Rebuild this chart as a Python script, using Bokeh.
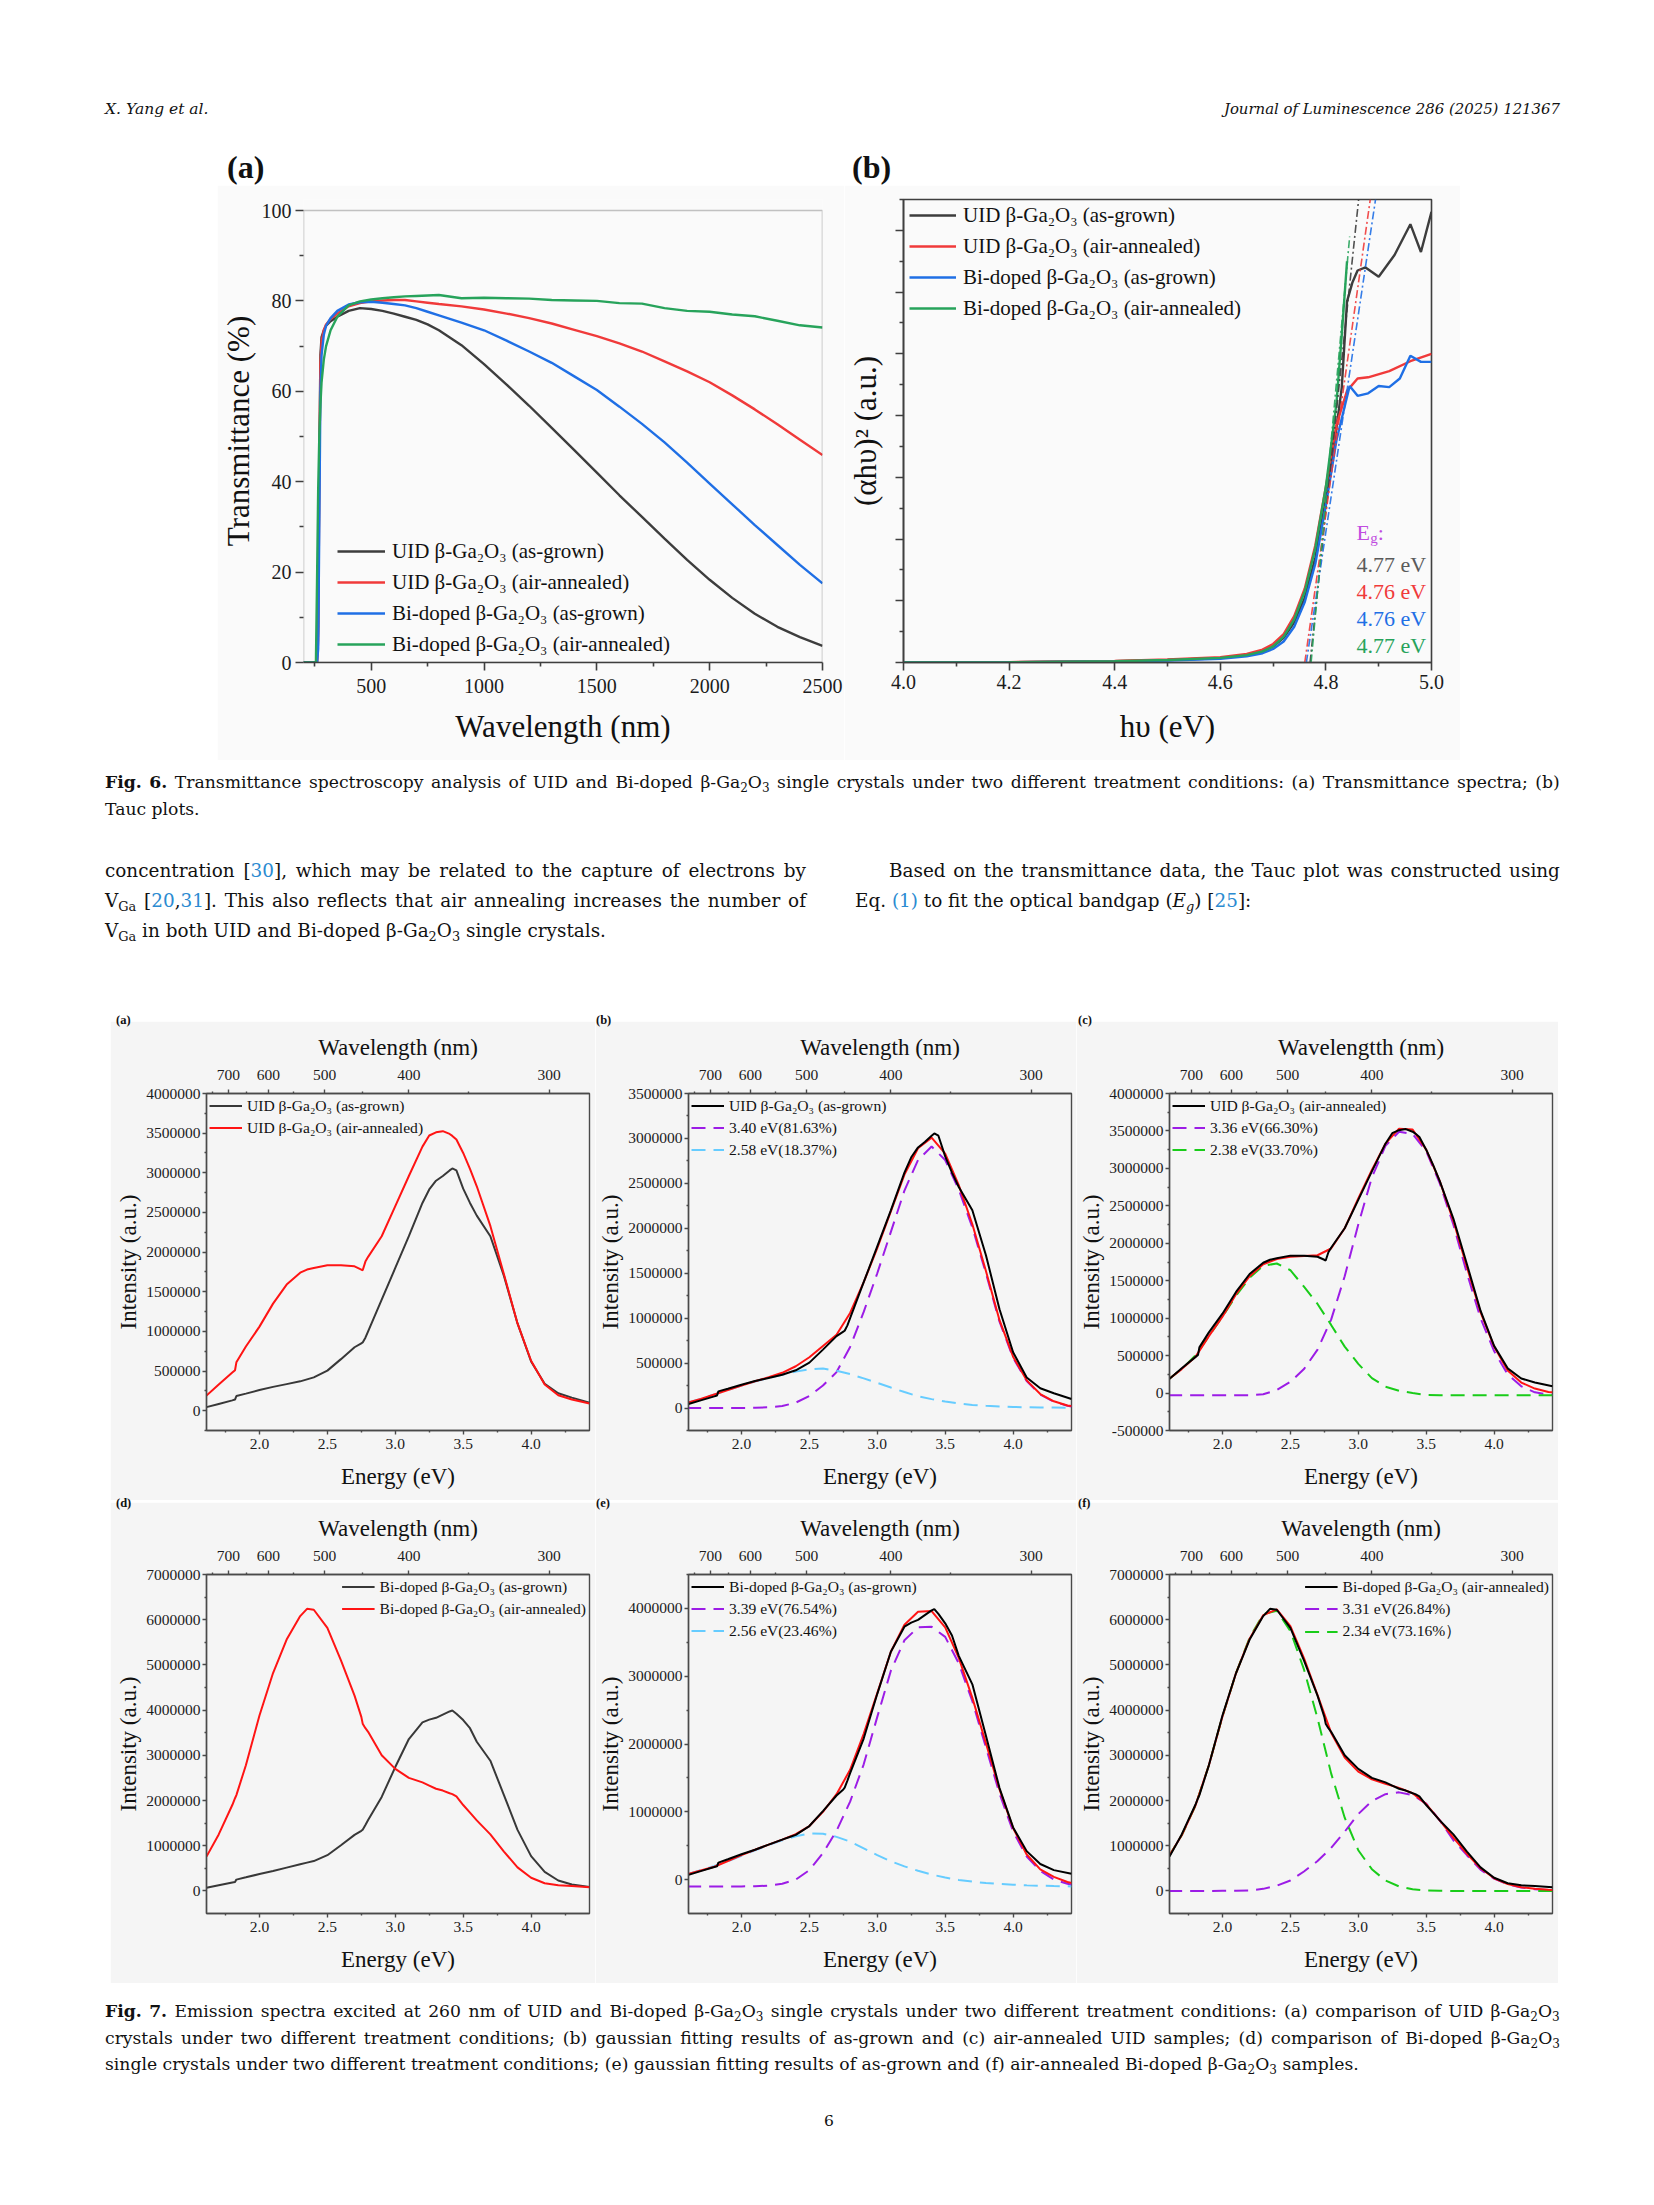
import re
from bokeh.plotting import figure
from bokeh.models import (Range1d, FixedTicker, PrintfTickFormatter, CustomJSTickFormatter,
                          LinearAxis, Legend, LegendItem, Label, Div, Spacer, BoxAnnotation)
from bokeh.layouts import column, row
from bokeh.embed import file_html
from bokeh.resources import INLINE

SERIF = "Liberation Serif"
BODY = "DejaVu Serif"
PAGE_W = 1646

# ---------------- Fig. 6(a): transmittance spectra ----------------
wavelength_nm = [200, 255, 260, 265, 270, 275, 280, 290, 300, 320, 350, 400, 450, 500, 550, 600, 650,
                 700, 750, 800, 900, 1000, 1100, 1200, 1300, 1400, 1500, 1600, 1700, 1800, 1900, 2000,
                 2100, 2200, 2300, 2400, 2500]
trans_uid_grown = [0, 0, 0, 8, 45, 68, 72, 73.5, 74.5, 75.5, 76.5, 77.8, 78.4, 78.2, 77.8, 77.2, 76.5,
                   75.8, 74.8, 73.5, 70.2, 66.0, 61.5, 56.8, 51.9, 47.0, 42.0, 37.0, 32.2, 27.4, 22.7, 18.3,
                   14.3, 10.8, 7.9, 5.6, 3.7]
trans_uid_annealed = [0, 0, 0, 5, 40, 66, 71, 73.5, 74.8, 76, 77.2, 78.8, 79.5, 79.9, 80.1, 80.2, 80.2,
                      79.9, 79.6, 79.3, 78.8, 78.1, 77.2, 76.2, 75.0, 73.6, 72.2, 70.6, 68.8, 66.6, 64.4, 62.0,
                      59.1, 56.0, 52.7, 49.3, 45.9]
trans_bi_grown = [0, 0, 0, 3, 30, 60, 68, 72.5, 74.5, 76.2, 77.8, 79.2, 79.7, 79.8, 79.6, 79.3, 79.0,
                  78.4, 77.6, 76.8, 75.2, 73.5, 71.2, 68.8, 66.3, 63.3, 60.3, 56.6, 52.8, 48.7, 44.2, 39.6,
                  35.0, 30.4, 26.0, 21.6, 17.5]
trans_bi_annealed = [0, 0, 18, 38, 50, 57, 62, 67, 70, 73.5, 76.5, 79, 79.9, 80.3, 80.6, 80.8, 81.0,
                     81.1, 81.2, 81.3, 80.6, 80.7, 80.6, 80.5, 80.2, 80.1, 80.0, 79.5, 79.4, 78.4, 77.8, 77.6,
                     77.0, 76.6, 75.6, 74.6, 74.1]
sample_labels = ["UID β-Ga₂O₃ (as-grown)", "UID β-Ga₂O₃ (air-annealed)",
                 "Bi-doped β-Ga₂O₃ (as-grown)", "Bi-doped β-Ga₂O₃ (air-annealed)"]
trans_xticks = [500, 1000, 1500, 2000, 2500]
trans_xminor = [250, 750, 1250, 1750, 2250]
trans_yticks = [0, 20, 40, 60, 80, 100]
trans_yminor = [10, 30, 50, 70, 90]
trans_x_lim = [200, 2500]
trans_y_lim = [0, 100]

# ---------------- Fig. 6(b): Tauc plots ----------------
tauc_e_uid_grown = [4.0, 4.2, 4.4, 4.5, 4.6, 4.65, 4.68, 4.70, 4.72, 4.74, 4.76, 4.78, 4.80, 4.82, 4.83,
                    4.84, 4.85, 4.86, 4.875, 4.90, 4.93, 4.96, 4.98, 5.0]
tauc_uid_grown = [0.0, 0.005, 0.02, 0.04, 0.07, 0.12, 0.18, 0.26, 0.40, 0.65, 1.05, 1.70, 2.65, 3.80, 4.45,
                  5.85, 6.15, 6.35, 6.40, 6.25, 6.60, 7.10, 6.65, 7.30]
tauc_e_uid_annealed = [4.0, 4.2, 4.4, 4.5, 4.6, 4.65, 4.68, 4.70, 4.72, 4.74, 4.76, 4.78, 4.80, 4.82, 4.84,
                       4.86, 4.88, 4.92, 4.96, 5.0]
tauc_uid_annealed = [0.0, 0.006, 0.025, 0.05, 0.085, 0.14, 0.21, 0.30, 0.46, 0.75, 1.20, 1.90, 2.85, 3.85,
                     4.40, 4.60, 4.62, 4.72, 4.88, 5.00]
tauc_e_bi_grown = [4.0, 4.2, 4.4, 4.5, 4.6, 4.65, 4.68, 4.70, 4.72, 4.74, 4.76, 4.78, 4.80, 4.82, 4.845,
                   4.86, 4.88, 4.90, 4.92, 4.94, 4.96, 4.98, 5.0]
tauc_bi_grown = [0.0, 0.004, 0.015, 0.03, 0.06, 0.10, 0.15, 0.22, 0.34, 0.58, 0.98, 1.60, 2.55, 3.60, 4.48,
                 4.32, 4.36, 4.48, 4.46, 4.60, 4.97, 4.87, 4.87]
tauc_e_bi_annealed = [4.0, 4.2, 4.4, 4.5, 4.6, 4.65, 4.68, 4.70, 4.72, 4.74, 4.76, 4.78, 4.80, 4.82, 4.83, 4.84]
tauc_bi_annealed = [0.0, 0.005, 0.02, 0.04, 0.075, 0.12, 0.18, 0.26, 0.42, 0.70, 1.15, 1.85, 2.85, 4.20,
                    5.30, 6.50]
tangent_eg = [4.770, 4.760, 4.763, 4.772]
tangent_base = [0, 0, 0, 0]
tangent_top_e = [4.862, 4.884, 4.894, 4.845]
tangent_top_y = [7.5, 7.5, 7.5, 6.9]
eg_labels = ["4.77 eV", "4.76 eV", "4.76 eV", "4.77 eV"]
tauc_xticks = [4.0, 4.2, 4.4, 4.6, 4.8, 5.0]
tauc_xminor = [4.1, 4.3, 4.5, 4.7, 4.9]
tauc_yticks = [0, 1, 2, 3, 4, 5, 6, 7]
tauc_yminor = [0.5, 1.5, 2.5, 3.5, 4.5, 5.5, 6.5, 7.5]

# ---------------- Fig. 7: PL spectra ----------------
pl_energy = [1.61, 1.70, 1.80, 1.82, 1.83, 1.90, 2.00, 2.10, 2.20, 2.30, 2.35, 2.40, 2.50, 2.60, 2.70,
             2.75, 2.76, 2.78, 2.80, 2.90, 3.00, 3.10, 3.20, 3.25, 3.30, 3.35, 3.40, 3.42, 3.45, 3.50,
             3.55, 3.60, 3.70, 3.80, 3.90, 4.00, 4.10, 4.20, 4.30, 4.43]
pl_uid_grown = [45000, 85000, 130000, 140000, 185000, 215000, 260000, 300000, 335000, 370000, 395000,
                420000, 505000, 650000, 800000, 850000, 860000, 920000, 1000000, 1400000, 1800000,
                2200000, 2620000, 2790000, 2900000, 2960000, 3030000, 3055000, 3030000, 2800000,
                2620000, 2460000, 2200000, 1700000, 1100000, 620000, 340000, 220000, 165000, 100000]
pl_uid_annealed = [190000, 330000, 480000, 510000, 610000, 810000, 1060000, 1350000, 1590000, 1740000,
                   1780000, 1800000, 1835000, 1835000, 1820000, 1780000, 1770000, 1880000, 1940000,
                   2200000, 2580000, 2960000, 3330000, 3470000, 3510000, 3525000, 3490000, 3465000,
                   3420000, 3250000, 3050000, 2830000, 2330000, 1720000, 1100000, 630000, 330000,
                   195000, 140000, 90000]
pl_bi_grown = [70000, 125000, 185000, 195000, 250000, 300000, 373000, 440000, 515000, 590000, 625000,
               660000, 790000, 1010000, 1240000, 1330000, 1355000, 1460000, 1570000, 2080000, 2740000,
               3360000, 3730000, 3790000, 3830000, 3900000, 3970000, 3990000, 3920000, 3780000,
               3600000, 3300000, 2880000, 2120000, 1350000, 770000, 420000, 230000, 140000, 85000]
pl_bi_annealed = [760000, 1250000, 1900000, 2050000, 2120000, 2780000, 3880000, 4820000, 5560000,
                  6080000, 6240000, 6220000, 5820000, 5100000, 4320000, 3850000, 3700000, 3600000,
                  3520000, 3000000, 2700000, 2500000, 2400000, 2330000, 2260000, 2220000, 2160000,
                  2140000, 2090000, 1900000, 1730000, 1560000, 1250000, 870000, 520000, 290000,
                  170000, 125000, 110000, 80000]

fit_energy = [1.6, 1.7, 1.8, 1.9, 2.0, 2.1, 2.2, 2.3, 2.4, 2.5, 2.6, 2.7, 2.8, 2.9, 3.0, 3.1, 3.2, 3.3,
              3.4, 3.5, 3.6, 3.7, 3.8, 3.9, 4.0, 4.1, 4.2, 4.3, 4.4, 4.43]
b_peak_340 = [0, 0, 0, 0, 1000, 3000, 8000, 22000, 60000, 135000, 250000, 400000, 680000, 1070000,
              1500000, 1960000, 2420000, 2760000, 2910000, 2760000, 2430000, 2010000, 1500000, 960000,
              560000, 300000, 150000, 70000, 25000, 18000]
b_peak_258 = [60000, 100000, 150000, 200000, 250000, 295000, 335000, 370000, 405000, 430000, 440000,
              415000, 378000, 330000, 280000, 228000, 178000, 131000, 99000, 72000, 50000, 35000, 25000,
              18000, 12000, 8000, 6000, 5000, 4000, 4000]
b_fit = [60000, 100000, 150000, 200000, 251000, 298000, 343000, 392000, 465000, 565000, 690000, 815000,
         1058000, 1400000, 1780000, 2188000, 2598000, 2891000, 3009000, 2832000, 2480000, 2045000,
         1525000, 978000, 572000, 308000, 156000, 75000, 29000, 22000]
c_peak_336 = [-30000, -30000, -30000, -30000, -30000, -30000, -28000, -15000, 40000, 150000, 320000,
              580000, 980000, 1560000, 2250000, 2880000, 3300000, 3490000, 3460000, 3230000, 2800000,
              2250000, 1600000, 1000000, 560000, 250000, 90000, 10000, -20000, -25000]
c_peak_238 = [180000, 320000, 500000, 760000, 1020000, 1300000, 1540000, 1700000, 1730000, 1640000,
              1420000, 1190000, 910000, 620000, 390000, 200000, 85000, 30000, 0, -25000, -30000, -30000,
              -30000, -30000, -30000, -30000, -30000, -30000, -30000, -30000]
c_fit = [180000, 320000, 480000, 760000, 1020000, 1320000, 1560000, 1720000, 1790000, 1820000, 1830000,
         1840000, 1930000, 2200000, 2600000, 2980000, 3330000, 3530000, 3520000, 3250000, 2830000,
         2300000, 1680000, 1080000, 620000, 300000, 140000, 60000, 15000, 10000]
e_peak_339 = [-100000, -100000, -100000, -100000, -100000, -98000, -88000, -60000, 0, 140000, 390000,
              720000, 1150000, 1700000, 2400000, 3080000, 3530000, 3720000, 3730000, 3580000, 3190000,
              2630000, 1950000, 1270000, 710000, 340000, 130000, 0, -60000, -75000]
e_peak_256 = [80000, 140000, 200000, 270000, 350000, 430000, 510000, 580000, 640000, 680000, 675000,
              630000, 560000, 460000, 360000, 270000, 195000, 130000, 75000, 30000, -5000, -30000, -50000,
              -65000, -75000, -85000, -90000, -95000, -98000, -100000]
e_fit = [80000, 135000, 190000, 275000, 360000, 440000, 515000, 590000, 670000, 790000, 1000000, 1260000,
         1620000, 2150000, 2750000, 3360000, 3760000, 3950000, 3960000, 3720000, 3270000, 2680000,
         2010000, 1330000, 760000, 370000, 150000, 40000, -35000, -50000]
f_peak_331 = [0, 0, 0, 0, 1000, 3000, 10000, 45000, 115000, 230000, 430000, 660000, 950000, 1310000,
              1700000, 1990000, 2140000, 2180000, 2120000, 1930000, 1560000, 1120000, 790000, 470000,
              270000, 150000, 75000, 37000, 17000, 15000]
f_peak_234 = [740000, 1230000, 1880000, 2780000, 3860000, 4820000, 5600000, 6120000, 6200000, 5750000,
              4900000, 3820000, 2600000, 1620000, 900000, 480000, 230000, 100000, 35000, 10000, 2000, 0,
              0, 0, 0, 0, 0, 0, 0, 0]
f_fit = [740000, 1230000, 1880000, 2780000, 3860000, 4820000, 5580000, 6100000, 6230000, 5860000,
         5150000, 4330000, 3500000, 2950000, 2640000, 2470000, 2370000, 2280000, 2160000, 1920000,
         1560000, 1180000, 820000, 500000, 280000, 150000, 80000, 45000, 25000, 20000]

energy_ticks = [2.0, 2.5, 3.0, 3.5, 4.0]
energy_minor = [1.75, 2.25, 2.75, 3.25, 3.75, 4.25]
wl_ticks = [700, 600, 500, 400, 300]
wl_minor = [750, 650, 550, 450, 350]
E_NM = 1239.84

yt_a = [0, 500000, 1000000, 1500000, 2000000, 2500000, 3000000, 3500000, 4000000]
ym_a = [-250000, 250000, 750000, 1250000, 1750000, 2250000, 2750000, 3250000, 3750000]
yt_b = [0, 500000, 1000000, 1500000, 2000000, 2500000, 3000000, 3500000]
ym_b = [-250000, 250000, 750000, 1250000, 1750000, 2250000, 2750000, 3250000]
yt_c = [-500000, 0, 500000, 1000000, 1500000, 2000000, 2500000, 3000000, 3500000, 4000000]
ym_c = [-250000, 250000, 750000, 1250000, 1750000, 2250000, 2750000, 3250000, 3750000]
yt_d = [0, 1000000, 2000000, 3000000, 4000000, 5000000, 6000000, 7000000]
ym_d = [500000, 1500000, 2500000, 3500000, 4500000, 5500000, 6500000]
yt_e = [0, 1000000, 2000000, 3000000, 4000000]
ym_e = [500000, 1500000, 2500000, 3500000, 4500000]

# ---------------- colours ----------------
FIG6_BG = "#fafafa"
FIG7_BG = "#f5f5f5"
AX6 = "#3f3f3f"
AX7 = "#4a4a4a"
C6 = ["#3d3d3d", "#f03a3a", "#1f6fe5", "#27a35b"]
EG_COL = "#c04ce0"
C7_DARK = "#383838"
C7_BLACK = "#000000"
C7_RED = "#ff1414"
C7_PURPLE = "#9c1ce6"
C7_CYAN = "#66ccff"
C7_GREEN = "#19cc19"


def style_axis(ax, tick_px, label_px, tick_out, minor_out, color, lab_so, axis_so, lw):
    ax.axis_line_color = color
    ax.axis_line_width = lw
    ax.major_tick_line_color = color
    ax.minor_tick_line_color = color
    ax.major_tick_line_width = lw
    ax.minor_tick_line_width = lw
    ax.major_tick_in = 0
    ax.major_tick_out = tick_out
    ax.minor_tick_in = 0
    ax.minor_tick_out = minor_out
    ax.major_label_text_font = SERIF
    ax.major_label_text_font_size = tick_px
    ax.major_label_text_color = "#1c1c1c"
    ax.major_label_standoff = lab_so
    ax.axis_label_text_font = SERIF
    ax.axis_label_text_font_size = label_px
    ax.axis_label_text_font_style = "normal"
    ax.axis_label_text_color = "#111111"
    ax.axis_label_standoff = axis_so


def add_legend(p, items, loc, font_px, glyph_w, row_h, spacing, margin, standoff):
    lg = Legend(items=[LegendItem(label=l, renderers=[r]) for l, r in items], location=loc,
                label_text_font=SERIF, label_text_font_size=font_px, label_text_color="#111111",
                glyph_width=glyph_w, glyph_height=row_h, label_height=row_h, spacing=spacing,
                padding=0, margin=margin, label_standoff=standoff,
                background_fill_alpha=0, border_line_alpha=0)
    p.add_layout(lg)


# ================= Fig. 6(a) =================
# frame spans 463 px; the 0-100 % box occupies its lower 452 px (panel (b) sits 11 px higher)
p6a = figure(frame_width=519, frame_height=463, min_border_left=86, min_border_right=22,
             min_border_top=14, min_border_bottom=98, x_range=Range1d(*trans_x_lim),
             y_range=Range1d(0, 100 * 463 / 452), output_backend="svg", toolbar_location=None,
             title_location=None)
p6a.border_fill_color = FIG6_BG
p6a.background_fill_color = FIG6_BG
p6a.grid.visible = False
p6a.outline_line_alpha = 0
r6a = []
for ys, col in zip([trans_uid_grown, trans_uid_annealed, trans_bi_grown, trans_bi_annealed], C6):
    r6a.append(p6a.line(wavelength_nm, ys, line_color=col, line_width=2.4))
p6a.add_layout(BoxAnnotation(left=trans_x_lim[0], right=trans_x_lim[1], bottom=trans_y_lim[0],
                             top=trans_y_lim[1], fill_alpha=0, line_color=AX6, line_width=1.6))
xa = p6a.below[0]
ya = p6a.left[0]
xa.ticker = FixedTicker(ticks=trans_xticks, minor_ticks=trans_xminor)
ya.ticker = FixedTicker(ticks=trans_yticks, minor_ticks=trans_yminor)
xa.formatter = PrintfTickFormatter(format="%d")
ya.formatter = PrintfTickFormatter(format="%d")
xa.axis_label = "Wavelength (nm)"
ya.axis_label = "Transmittance (%)"
style_axis(xa, "20px", "31px", 8, 4, AX6, 8, 13, 1.6)
style_axis(ya, "20px", "31px", 8, 4, AX6, 4, 3, 1.6)
ya.axis_line_alpha = 0
add_legend(p6a, list(zip(sample_labels, r6a)), (34, 4), "21px", 48, 28, 3, 0, 7)

# ================= Fig. 6(b) =================
p6b = figure(frame_width=528, frame_height=463, min_border_left=59, min_border_right=29,
             min_border_top=14, min_border_bottom=98, x_range=Range1d(4.0, 5.0),
             y_range=Range1d(0, 7.5), output_backend="svg", toolbar_location=None,
             title_location=None)
p6b.border_fill_color = FIG6_BG
p6b.background_fill_color = FIG6_BG
p6b.grid.visible = False
p6b.outline_line_color = AX6
p6b.outline_line_width = 1.6
r6b = []
for xs, ys, col in zip([tauc_e_uid_grown, tauc_e_uid_annealed, tauc_e_bi_grown, tauc_e_bi_annealed],
                       [tauc_uid_grown, tauc_uid_annealed, tauc_bi_grown, tauc_bi_annealed], C6):
    r6b.append(p6b.line(xs, ys, line_color=col, line_width=2.4))
for i, col in enumerate(C6):
    p6b.line([tangent_eg[i], tangent_top_e[i]], [tangent_base[i], tangent_top_y[i]],
             line_color=col, line_width=1.6, line_dash="8 3 2 3", line_alpha=0.9)
xb = p6b.below[0]
yb = p6b.left[0]
xb.ticker = FixedTicker(ticks=tauc_xticks, minor_ticks=tauc_xminor)
yb.ticker = FixedTicker(ticks=tauc_yticks, minor_ticks=tauc_yminor)
xb.formatter = PrintfTickFormatter(format="%.1f")
yb.formatter = CustomJSTickFormatter(code="return '';")
xb.axis_label = "hυ (eV)"
yb.axis_label = "(αhυ)² (a.u.)"
style_axis(xb, "20px", "31px", 8, 4, AX6, 4, 17, 1.6)
style_axis(yb, "20px", "31px", 8, 4, AX6, 0, 13, 1.6)
yb.major_label_text_font_size = "0px"
add_legend(p6b, list(zip(sample_labels, r6b)), (6, 340), "21px", 47, 28, 3, 0, 7)
EG_X = 4.858
p6b.add_layout(Label(x=EG_X, y=2.106, text="E", text_font=SERIF, text_font_size="22px",
                     text_color=EG_COL, text_baseline="middle", text_align="left"))
p6b.add_layout(Label(x=4.884, y=2.009, text="g", text_font=SERIF, text_font_size="15px",
                     text_color=EG_COL, text_baseline="middle", text_align="left"))
p6b.add_layout(Label(x=4.898, y=2.106, text=":", text_font=SERIF, text_font_size="22px",
                     text_color=EG_COL, text_baseline="middle", text_align="left"))
for txt, yv, col in zip(eg_labels, [1.587, 1.150, 0.713, 0.275],
                        ["#5a5a5a", "#f03a3a", "#1f6fe5", "#27a35b"]):
    p6b.add_layout(Label(x=EG_X, y=yv, text=txt, text_font=SERIF, text_font_size="22px",
                         text_color=col, text_baseline="middle", text_align="left"))


# ================= Fig. 7 panels =================
TOP7 = 72
BOT7 = 70


def pl_panel(lb, fw, rb, fh, y_lo, y_hi, yticks, yminor, top_title):
    p = figure(frame_width=fw, frame_height=fh, min_border_left=lb, min_border_right=rb,
               min_border_top=TOP7, min_border_bottom=BOT7, x_range=Range1d(1.61, 4.43),
               y_range=Range1d(y_lo, y_hi), output_backend="svg", toolbar_location=None,
               title_location=None)
    p.border_fill_color = FIG7_BG
    p.background_fill_color = FIG7_BG
    p.grid.visible = False
    p.outline_line_color = AX7
    p.outline_line_width = 1.4
    top_ax = LinearAxis(ticker=FixedTicker(ticks=[E_NM / w for w in wl_ticks],
                                           minor_ticks=[E_NM / w for w in wl_minor]),
                        formatter=CustomJSTickFormatter(code="return Math.round(1239.84 / tick).toString();"),
                        axis_label=top_title)
    p.add_layout(top_ax, "above")
    bx = p.below[0]
    ly = p.left[0]
    bx.ticker = FixedTicker(ticks=energy_ticks, minor_ticks=energy_minor)
    bx.formatter = PrintfTickFormatter(format="%.1f")
    bx.axis_label = "Energy (eV)"
    ly.ticker = FixedTicker(ticks=yticks, minor_ticks=yminor)
    ly.formatter = PrintfTickFormatter(format="%d")
    ly.axis_label = "Intensity (a.u.)"
    style_axis(bx, "15.5px", "23px", 4, 2, AX7, 4, 12, 1.4)
    style_axis(top_ax, "15.5px", "23px", 4, 2, AX7, 10, 7, 1.4)
    style_axis(ly, "15.5px", "23px", 4, 2, AX7, 2, 2, 1.4)
    return p


LEG7 = dict(font_px="15.6px", glyph_w=33, row_h=19, spacing=3, margin=3, standoff=5)
DASH = "14 8"
FH1 = 337
FH2 = 339

# (a)
p7a = pl_panel(96, 383, 6, FH1, -250000, 4000000, yt_a, ym_a, "Wavelength (nm)")
ra1 = p7a.line(pl_energy, pl_uid_grown, line_color=C7_DARK, line_width=2)
ra2 = p7a.line(pl_energy, pl_uid_annealed, line_color=C7_RED, line_width=2)
add_legend(p7a, [(sample_labels[0], ra1), (sample_labels[1], ra2)], "top_left", **LEG7)

# (b)
p7b = pl_panel(91, 383, 5, FH1, -250000, 3500000, yt_b, ym_b, "Wavelength (nm)")
rb2 = p7b.line(fit_energy, b_peak_340, line_color=C7_PURPLE, line_width=2, line_dash=DASH)
rb3 = p7b.line(fit_energy, b_peak_258, line_color=C7_CYAN, line_width=2, line_dash=DASH)
p7b.line(fit_energy, b_fit, line_color=C7_RED, line_width=2)
rb1 = p7b.line(pl_energy, pl_uid_grown, line_color=C7_BLACK, line_width=2)
add_legend(p7b, [(sample_labels[0], rb1), ("3.40 eV(81.63%)", rb2), ("2.58 eV(18.37%)", rb3)],
           "top_left", **LEG7)

# (c)
p7c = pl_panel(93, 383, 6, FH1, -500000, 4000000, yt_c, ym_c, "Wavelengtth (nm)")
rc2 = p7c.line(fit_energy, c_peak_336, line_color=C7_PURPLE, line_width=2, line_dash=DASH)
rc3 = p7c.line(fit_energy, c_peak_238, line_color=C7_GREEN, line_width=2, line_dash=DASH)
p7c.line(fit_energy, c_fit, line_color=C7_RED, line_width=2)
rc1 = p7c.line(pl_energy, pl_uid_annealed, line_color=C7_BLACK, line_width=2)
add_legend(p7c, [(sample_labels[1], rc1), ("3.36 eV(66.30%)", rc2), ("2.38 eV(33.70%)", rc3)],
           "top_left", **LEG7)

# (d)
p7d = pl_panel(96, 383, 6, FH2, -500000, 7000000, yt_d, ym_d, "Wavelength (nm)")
rd1 = p7d.line(pl_energy, pl_bi_grown, line_color=C7_DARK, line_width=2)
rd2 = p7d.line(pl_energy, pl_bi_annealed, line_color=C7_RED, line_width=2)
add_legend(p7d, [(sample_labels[2], rd1), (sample_labels[3], rd2)], "top_right", **LEG7)

# (e)
p7e = pl_panel(91, 383, 5, FH2, -500000, 4500000, yt_e, ym_e, "Wavelength (nm)")
re2 = p7e.line(fit_energy, e_peak_339, line_color=C7_PURPLE, line_width=2, line_dash=DASH)
re3 = p7e.line(fit_energy, e_peak_256, line_color=C7_CYAN, line_width=2, line_dash=DASH)
p7e.line(fit_energy, e_fit, line_color=C7_RED, line_width=2)
re1 = p7e.line(pl_energy, pl_bi_grown, line_color=C7_BLACK, line_width=2)
add_legend(p7e, [(sample_labels[2], re1), ("3.39 eV(76.54%)", re2), ("2.56 eV(23.46%)", re3)],
           "top_left", **LEG7)

# (f)
p7f = pl_panel(93, 383, 6, FH2, -500000, 7000000, yt_d, ym_d, "Wavelength (nm)")
rf2 = p7f.line(fit_energy, f_peak_331, line_color=C7_PURPLE, line_width=2, line_dash=DASH)
rf3 = p7f.line(fit_energy, f_peak_234, line_color=C7_GREEN, line_width=2, line_dash=DASH)
p7f.line(fit_energy, f_fit, line_color=C7_RED, line_width=2)
rf1 = p7f.line(pl_energy, pl_bi_annealed, line_color=C7_BLACK, line_width=2)
add_legend(p7f, [(sample_labels[3], rf1), ("3.31 eV(26.84%)", rf2), ("2.34 eV(73.16%）", rf3)],
           "top_right", **LEG7)


# ================= text bands =================
def md(s):
    s = re.sub(r"_\{(.*?)\}", lambda m: '<span style="font-size:70%;position:relative;top:0.32em;">'
               + m.group(1) + '</span>', s)
    s = re.sub(r"\{c:(.*?)\}", lambda m: '<span style="color:#2b8bd1;">' + m.group(1) + '</span>', s)
    s = re.sub(r"\*\*(.*?)\*\*", lambda m: '<b>' + m.group(1) + '</b>', s)
    s = re.sub(r"//(.*?)//", lambda m: '<i>' + m.group(1) + '</i>', s)
    return s


def tline(x, yc, band_top, text, size, font=BODY, width=None, justify=False, extra="", lh=24):
    # x, yc are page coordinates; the layout itself is offset by the 8px page margin
    top = yc - band_top - lh / 2
    st = (f"position:absolute;top:{top:.1f}px;left:{x - 8}px;line-height:{lh}px;"
          f"font-family:'{font}';font-size:{size};white-space:nowrap;color:#111111;{extra}")
    if width is not None:
        st += f"width:{width}px;"
    if justify:
        st += "display:flex;justify-content:space-between;"
        inner = "".join("<span>" + md(tok) + "</span>" for tok in text.split(" "))
    else:
        inner = md(text)
    return f'<div style="{st}">{inner}</div>'


def band(height, parts, front=False):
    html = (f'<div style="position:relative;width:{PAGE_W}px;height:{height}px;overflow:visible;">'
            + "".join(parts) + "</div>")
    kw = {}
    if front:
        kw["styles"] = {"z-index": "10", "position": "relative", "overflow": "visible"}
    return Div(text=html, width=PAGE_W, height=height, margin=(0, 0, 0, 0), **kw)


ROW1_H = TOP7 + FH1 + BOT7
ROW2_H = TOP7 + FH2 + BOT7
# bands (page y): header 8-150, labels 150-185, fig6 185-760, caption 760-840, body 840-960,
# labels 960-1021, fig7 row1 1021-1500, labels 1500-1502, row2 1502-1983, caption 1983-2090
header = band(142, [
    tline(105, 109, 8, "X. Yang et al.", "15.5px", extra="font-style:italic;"),
    tline(1100, 109, 8, "Journal of Luminescence 286 (2025) 121367", "14.9px", width=460,
          extra="font-style:italic;text-align:right;"),
])

fig6_labels = band(35, [
    tline(227, 167, 150, "(a)", "32px", font=SERIF, extra="font-weight:bold;", lh=34),
    tline(852, 167, 150, "(b)", "32px", font=SERIF, extra="font-weight:bold;", lh=34),
], front=True)

cap6_lines = [
    "**Fig.** **6.** Transmittance spectroscopy analysis of UID and Bi-doped β-Ga_{2}O_{3} single crystals under two different treatment conditions: (a) Transmittance spectra; (b)",
    "Tauc plots.",
]
caption6 = band(80, [
    tline(105, 782, 760, cap6_lines[0], "17.2px", width=1455, justify=True),
    tline(105, 809, 760, cap6_lines[1], "17.2px"),
])

body_left = [
    "concentration [{c:30}], which may be related to the capture of electrons by",
    "V_{Ga} [{c:20},{c:31}]. This also reflects that air annealing increases the number of",
    "V_{Ga} in both UID and Bi-doped β-Ga_{2}O_{3} single crystals.",
]
body_right = [
    "Based on the transmittance data, the Tauc plot was constructed using",
    "Eq. {c:(1)} to fit the optical bandgap (//E_{g}//) [{c:25}]:",
]
body = band(120, [
    tline(105, 871, 840, body_left[0], "18.4px", width=701, justify=True),
    tline(105, 901, 840, body_left[1], "18.4px", width=701, justify=True),
    tline(105, 931, 840, body_left[2], "18.4px"),
    tline(889, 871, 840, body_right[0], "18.4px", width=671, justify=True),
    tline(855, 901, 840, body_right[1], "18.4px"),
])

fig7_labels_1 = band(61, [
    tline(116, 1020, 960, "(a)", "12.5px", font=SERIF, extra="font-weight:bold;", lh=14),
    tline(596, 1020, 960, "(b)", "12.5px", font=SERIF, extra="font-weight:bold;", lh=14),
    tline(1078, 1020, 960, "(c)", "12.5px", font=SERIF, extra="font-weight:bold;", lh=14),
], front=True)
fig7_labels_2 = band(2, [
    tline(116, 1493, 1500, "(d)", "12.5px", font=SERIF, extra="font-weight:bold;", lh=14),
    tline(596, 1493, 1500, "(e)", "12.5px", font=SERIF, extra="font-weight:bold;", lh=14),
    tline(1078, 1493, 1500, "(f)", "12.5px", font=SERIF, extra="font-weight:bold;", lh=14),
], front=True)

cap7_lines = [
    "**Fig.** **7.** Emission spectra excited at 260 nm of UID and Bi-doped β-Ga_{2}O_{3} single crystals under two different treatment conditions: (a) comparison of UID β-Ga_{2}O_{3}",
    "crystals under two different treatment conditions; (b) gaussian fitting results of as-grown and (c) air-annealed UID samples; (d) comparison of Bi-doped β-Ga_{2}O_{3}",
    "single crystals under two different treatment conditions; (e) gaussian fitting results of as-grown and (f) air-annealed Bi-doped β-Ga_{2}O_{3} samples.",
]
caption7 = band(107, [
    tline(105, 2011, 1983, cap7_lines[0], "17.2px", width=1455, justify=True),
    tline(105, 2038, 1983, cap7_lines[1], "17.2px", width=1455, justify=True),
    tline(105, 2064, 1983, cap7_lines[2], "17.2px"),
])
page_no = band(60, [
    tline(809, 2121, 2090, "6", "15.5px", width=40, extra="text-align:center;"),
])

layout = column(
    header,
    fig6_labels,
    row(Spacer(width=209, height=575), p6a, p6b),
    caption6,
    body,
    fig7_labels_1,
    row(Spacer(width=102, height=ROW1_H), p7a, p7b, p7c),
    fig7_labels_2,
    row(Spacer(width=102, height=ROW2_H), p7d, p7e, p7f),
    caption7,
    page_no,
    margin=(8, 0, 0, 8),
)

open("out.html", "w").write(file_html(layout, INLINE, title="Fig. 6 and Fig. 7"))
